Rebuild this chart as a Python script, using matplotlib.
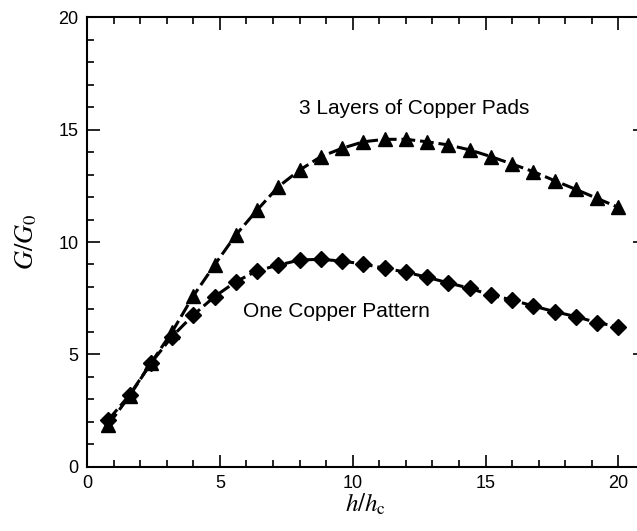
import matplotlib.pyplot as plt
from matplotlib.ticker import MultipleLocator

# h/hc values (same for both curves)
x = [0.8, 1.6, 2.4, 3.2, 4.0, 4.8, 5.6, 6.4, 7.2, 8.0, 8.8, 9.6, 10.4,
     11.2, 12.0, 12.8, 13.6, 14.4, 15.2, 16.0, 16.8, 17.6, 18.4, 19.2, 20.0]

# 3 layers of copper pads
g_pads = [1.86, 3.15, 4.6, 6.0, 7.6, 8.98, 10.31, 11.42, 12.46, 13.2, 13.8,
          14.17, 14.46, 14.57, 14.57, 14.46, 14.32, 14.1, 13.8, 13.47, 13.13,
          12.73, 12.34, 11.94, 11.54]

# one copper pattern
g_one = [2.08, 3.19, 4.6, 5.79, 6.75, 7.57, 8.23, 8.72, 8.97, 9.2, 9.23,
         9.15, 9.02, 8.83, 8.66, 8.43, 8.18, 7.94, 7.64, 7.42, 7.15, 6.9,
         6.68, 6.41, 6.23]

plt.rcParams['font.family'] = ['Liberation Sans', 'DejaVu Sans']
plt.rcParams['mathtext.fontset'] = 'stix'

fig = plt.figure(figsize=(6.37, 5.31), dpi=100)
ax = fig.add_axes([0.1366, 0.1211, 0.876, 0.8463])

dash = (0, (4.5, 1.6))
ax.plot(x, g_pads, color='black', linestyle=dash, linewidth=2.2,
        marker='^', markersize=10)
ax.plot(x, g_one, color='black', linestyle=dash, linewidth=2.2,
        marker='D', markersize=8)

ax.text(12.3, 15.95, '3 Layers of Copper Pads', fontsize=15,
        ha='center', va='center')
ax.text(9.4, 6.9, 'One Copper Pattern', fontsize=15,
        ha='center', va='center')

ax.set_xlim(0, 21)
ax.set_ylim(0, 20)
ax.xaxis.set_major_locator(MultipleLocator(5))
ax.xaxis.set_minor_locator(MultipleLocator(1))
ax.yaxis.set_major_locator(MultipleLocator(5))
ax.yaxis.set_minor_locator(MultipleLocator(1))
ax.tick_params(which='both', direction='in', top=True, right=True,
               labelsize=13, width=1.2)
ax.tick_params(which='major', length=9, pad=6)
ax.tick_params(which='minor', length=5)
for s in ax.spines.values():
    s.set_linewidth(1.5)

ax.set_xlabel(r'$h/h_{\mathrm{c}}$', fontsize=18, labelpad=0)
ax.set_ylabel(r'$G/G_0$', fontsize=19, labelpad=14)

plt.savefig('out.png', dpi=100)
